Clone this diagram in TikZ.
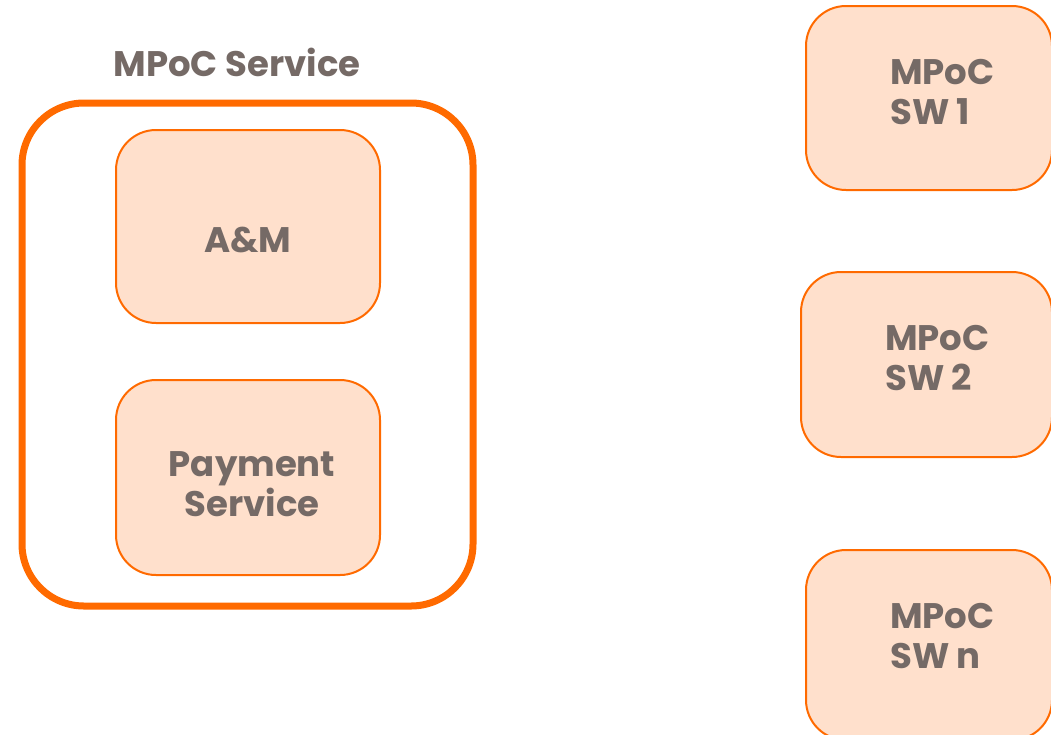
\documentclass[tikz,border=0pt]{standalone}
\usepackage{fontspec}
\setmainfont{Poppins}
\usetikzlibrary{positioning}

\definecolor{mpocorange}{HTML}{FF6A00}
\definecolor{mpocfill}{HTML}{FFE0CC}
\definecolor{mpocgrey}{HTML}{756A66}

\begin{document}
\begin{tikzpicture}[
    x = 1pt,
    y = -1pt,
    label text/.style = {
      text = mpocgrey,
      font = \fontsize{35.5}{40}\selectfont\bfseries,
      align = center,
      inner sep = 0pt
    },
    part box/.style = {
      draw = mpocorange,
      fill = mpocfill,
      line width = 2pt,
      rounded corners = 40pt,
      inner sep = 0pt
    },
    service box/.style = {
      draw = mpocorange,
      line width = 7pt,
      rounded corners = 62pt,
      inner sep = 0pt
    }
  ]
\useasboundingbox (0,0) rectangle (1051,734);
\clip (0,0) rectangle (1051,734);

% service with its parts
\node[label text] (title) at (237,62) {MPoC Service};
\node[service box, minimum width = 451pt, minimum height = 503pt] (service) at (247.5,354.5) {};
\node[part box, minimum width = 264pt, minimum height = 193pt] (am) at (248,226.5) {};
\node[label text] (amtext) at (248,240) {A\&M};
\node[part box, minimum width = 264pt, minimum height = 195pt] (pay) at (248,477.5) {};
\node[label text] (paytext) at (252,484) {Payment\\Service};

% software boxes
\node[part box, minimum width = 246pt, minimum height = 184pt] (sw1) at (929,98) {};
\node[part box, minimum width = 251pt, minimum height = 185pt] (sw2) at (926.5,364.5) {};
\node[part box, minimum width = 246pt, minimum height = 190pt] (swn) at (929,645) {};

\node[label text, align = left, anchor = west] (sw1text) at (890,92) {MPoC\\SW 1};
\node[label text, align = left, anchor = west] (sw2text) at (885,358) {MPoC\\SW 2};
\node[label text, align = left, anchor = west] (swntext) at (890,636) {MPoC\\SW n};

\end{tikzpicture}
\end{document}
